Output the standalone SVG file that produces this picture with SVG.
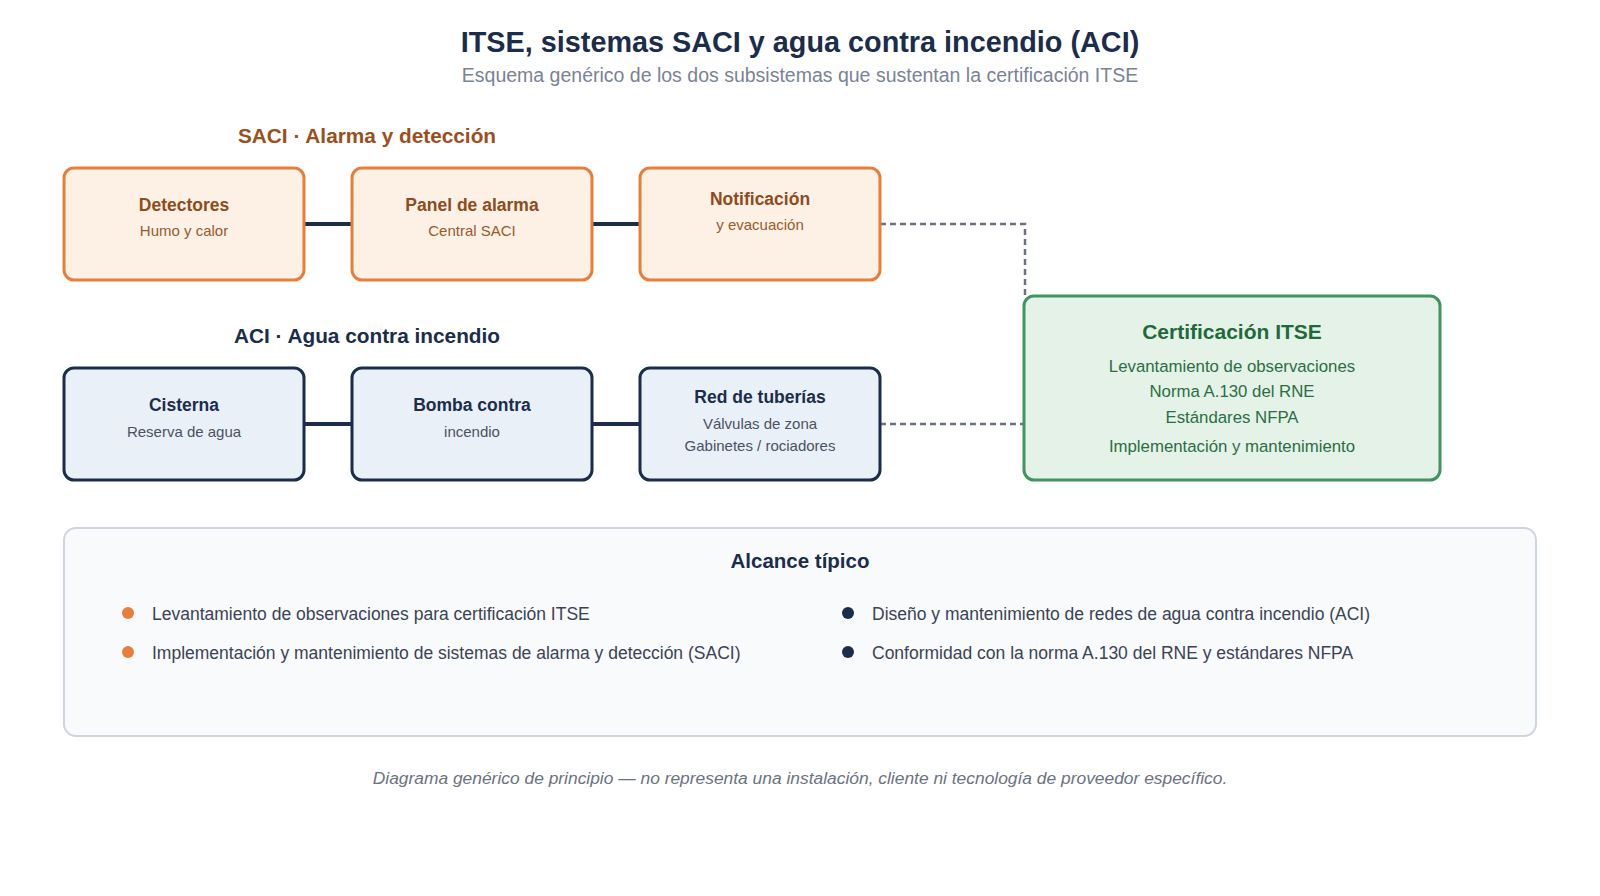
<svg xmlns="http://www.w3.org/2000/svg" width="1600" height="896" viewBox="0 0 1600 896">
  <style>
    text { font-family: "Liberation Sans", Arial, sans-serif; }
    .title { font-size: 28.8px; font-weight: bold; fill: #1b2d4b; text-anchor: middle; }
    .subtitle { font-size: 19.5px; fill: #7a8394; text-anchor: middle; }
    .sec-saci { font-size: 20.8px; font-weight: bold; fill: #9a4f1c; text-anchor: middle; }
    .sec-aci { font-size: 20.8px; font-weight: bold; fill: #1b2d4b; text-anchor: middle; }
    .box-saci { fill: #fdf1e6; stroke: #e67f3a; stroke-width: 3; }
    .box-aci { fill: #e9f0f8; stroke: #1b2d4b; stroke-width: 3; }
    .box-cert { fill: #e5f2e8; stroke: #3f9460; stroke-width: 3; }
    .t-saci { font-size: 17.5px; font-weight: bold; fill: #8f4b1b; text-anchor: middle; }
    .s-saci { font-size: 15px; fill: #9a5a2a; text-anchor: middle; }
    .t-aci { font-size: 17.5px; font-weight: bold; fill: #1b2d4b; text-anchor: middle; }
    .s-aci { font-size: 15px; fill: #4a5261; text-anchor: middle; }
    .t-cert { font-size: 21px; font-weight: bold; fill: #1f6a3b; text-anchor: middle; }
    .s-cert { font-size: 16.8px; fill: #2a6e43; text-anchor: middle; }
    .solid { stroke: #1b2d4b; stroke-width: 4; fill: none; }
    .dash { stroke: #6b7280; stroke-width: 2.5; stroke-dasharray: 6 4; fill: none; }
    .panel { fill: #f8fafc; stroke: #cdd5e0; stroke-width: 2; }
    .panel-title { font-size: 20.5px; font-weight: bold; fill: #1b2d4b; text-anchor: middle; }
    .item { font-size: 17.5px; fill: #3b4354; }
    .footer { font-size: 17.4px; font-style: italic; fill: #6b7280; text-anchor: middle; }
  </style>

  <rect x="0" y="0" width="1600" height="896" fill="#ffffff"/>

  <g id="header">
    <text class="title" x="800" y="52">ITSE, sistemas SACI y agua contra incendio (ACI)</text>
    <text class="subtitle" x="800" y="82">Esquema genérico de los dos subsistemas que sustentan la certificación ITSE</text>
  </g>

  <g id="section-saci">
    <text class="sec-saci" x="367" y="143">SACI · Alarma y detección</text>
  </g>
  <g id="section-aci">
    <text class="sec-aci" x="367" y="343">ACI · Agua contra incendio</text>
  </g>

  <g id="connectors">
    <line class="solid" x1="304" y1="224" x2="352" y2="224"/>
    <line class="solid" x1="592" y1="224" x2="640" y2="224"/>
    <line class="solid" x1="304" y1="424" x2="352" y2="424"/>
    <line class="solid" x1="592" y1="424" x2="640" y2="424"/>
    <polyline class="dash" points="880,224 1025,224 1025,296"/>
    <line class="dash" x1="880" y1="424" x2="1024" y2="424"/>
  </g>

  <g id="node-detectores">
    <rect class="box-saci" x="64" y="168" width="240" height="112" rx="10"/>
    <text class="t-saci" x="184" y="211">Detectores</text>
    <text class="s-saci" x="184" y="236">Humo y calor</text>
  </g>
  <g id="node-panel">
    <rect class="box-saci" x="352" y="168" width="240" height="112" rx="10"/>
    <text class="t-saci" x="472" y="211">Panel de alarma</text>
    <text class="s-saci" x="472" y="236">Central SACI</text>
  </g>
  <g id="node-notificacion">
    <rect class="box-saci" x="640" y="168" width="240" height="112" rx="10"/>
    <text class="t-saci" x="760" y="205">Notificación</text>
    <text class="s-saci" x="760" y="230">y evacuación</text>
  </g>

  <g id="node-cisterna">
    <rect class="box-aci" x="64" y="368" width="240" height="112" rx="10"/>
    <text class="t-aci" x="184" y="411">Cisterna</text>
    <text class="s-aci" x="184" y="437">Reserva de agua</text>
  </g>
  <g id="node-bomba">
    <rect class="box-aci" x="352" y="368" width="240" height="112" rx="10"/>
    <text class="t-aci" x="472" y="411">Bomba contra</text>
    <text class="s-aci" x="472" y="437">incendio</text>
  </g>
  <g id="node-red">
    <rect class="box-aci" x="640" y="368" width="240" height="112" rx="10"/>
    <text class="t-aci" x="760" y="403">Red de tuberías</text>
    <text class="s-aci" x="760" y="429">Válvulas de zona</text>
    <text class="s-aci" x="760" y="451">Gabinetes / rociadores</text>
  </g>

  <g id="node-certificacion">
    <rect class="box-cert" x="1024" y="296" width="416" height="184" rx="10"/>
    <text class="t-cert" x="1232" y="339">Certificación ITSE</text>
    <text class="s-cert" x="1232" y="372">Levantamiento de observaciones</text>
    <text class="s-cert" x="1232" y="397">Norma A.130 del RNE</text>
    <text class="s-cert" x="1232" y="423">Estándares NFPA</text>
    <text class="s-cert" x="1232" y="452">Implementación y mantenimiento</text>
  </g>

  <g id="alcance">
    <rect class="panel" x="64" y="528" width="1472" height="208" rx="12"/>
    <text class="panel-title" x="800" y="568">Alcance típico</text>
    <circle cx="128" cy="613" r="6" fill="#e67f3a"/>
    <text class="item" x="152" y="620">Levantamiento de observaciones para certificación ITSE</text>
    <circle cx="128" cy="652" r="6" fill="#e67f3a"/>
    <text class="item" x="152" y="659">Implementación y mantenimiento de sistemas de alarma y detección (SACI)</text>
    <circle cx="848" cy="613" r="6" fill="#1b2d4b"/>
    <text class="item" x="872" y="620">Diseño y mantenimiento de redes de agua contra incendio (ACI)</text>
    <circle cx="848" cy="652" r="6" fill="#1b2d4b"/>
    <text class="item" x="872" y="659">Conformidad con la norma A.130 del RNE y estándares NFPA</text>
  </g>

  <g id="footer">
    <text class="footer" x="800" y="784">Diagrama genérico de principio — no representa una instalación, cliente ni tecnología de proveedor específico.</text>
  </g>
</svg>
